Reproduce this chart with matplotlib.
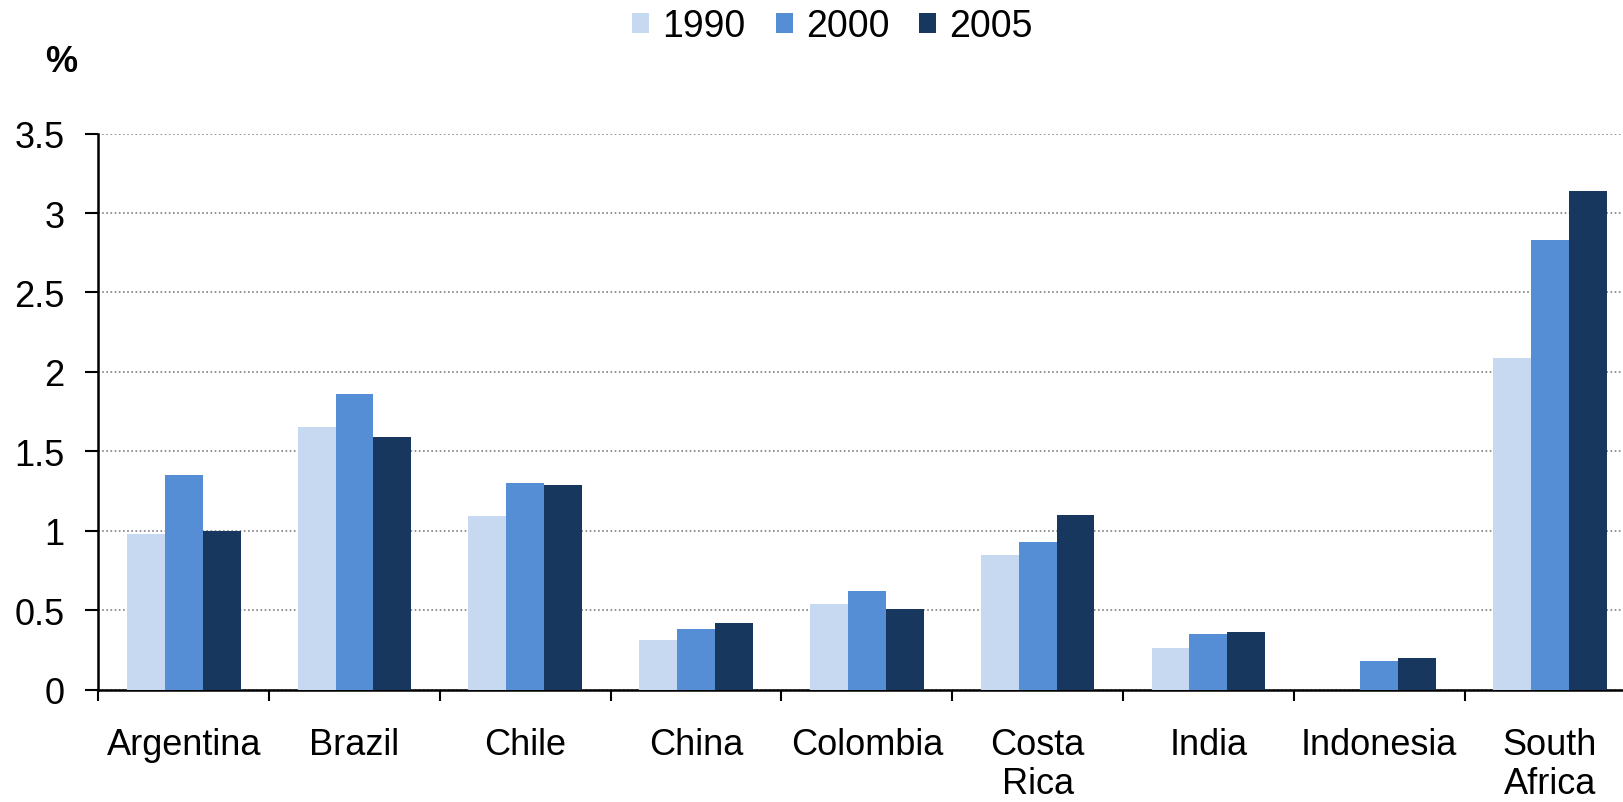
import numpy as np
import matplotlib
matplotlib.use('Agg')
from matplotlib import pyplot as plt

countries = ['Argentina', 'Brazil', 'Chile', 'China', 'Colombia', 'Costa\nRica',
             'India', 'Indonesia', 'South\nAfrica']
years = ['1990', '2000', '2005']
v1990 = [0.98, 1.65, 1.09, 0.31, 0.54, 0.85, 0.26, np.nan, 2.09]
v2000 = [1.35, 1.86, 1.30, 0.38, 0.62, 0.93, 0.35, 0.18, 2.83]
v2005 = [1.00, 1.59, 1.29, 0.42, 0.51, 1.10, 0.36, 0.20, 3.14]
colors = ['#C6D9F0', '#558ED5', '#17375E']

plt.rcParams['font.family'] = ['Liberation Sans', 'DejaVu Sans']

fig = plt.figure(figsize=(16.23, 8.03), dpi=100)
ax = fig.add_axes([0.0606, 0.140, 0.947, 0.6924])

x = np.arange(len(countries))
w = 0.222
for i, (vals, c, lab) in enumerate(zip([v1990, v2000, v2005], colors, years)):
    ax.bar(x + (i - 1) * w, vals, width=w, color=c, label=lab, zorder=3)

ax.set_xlim(-0.5, len(countries) - 0.5)
ax.set_ylim(0, 3.5)
ax.set_yticks(np.arange(0, 3.51, 0.5))
ax.set_yticklabels(['0', '0.5', '1', '1.5', '2', '2.5', '3', '3.5'], fontsize=26)
ax.yaxis.grid(True, linestyle=(0, (1, 1.5)), color='#808080', linewidth=1.2, zorder=0)

ax.set_xticks(np.arange(-0.5, len(countries), 1.0))
ax.set_xticklabels([])
ax.set_xticks(x, minor=True)
ax.set_xticklabels(countries, minor=True, fontsize=26, linespacing=1.15)
ax.tick_params(axis='x', which='minor', length=0, pad=27)
ax.tick_params(axis='x', which='major', length=8, width=1.5, direction='out')
ax.tick_params(axis='y', length=9.5, width=1.5, direction='out', pad=15)

for s in ['top', 'right']:
    ax.spines[s].set_visible(False)
for s in ['left', 'bottom']:
    ax.spines[s].set_linewidth(1.8)

fig.text(0.038, 0.922, '%', fontsize=26, fontweight='bold', ha='center', va='center')

fig.legend(loc='center', bbox_to_anchor=(0.513, 0.966), ncol=3, frameon=False,
           fontsize=27, handlelength=0.45, handleheight=0.45,
           handletextpad=0.35, columnspacing=0.8)

fig.savefig('out.png', dpi=100)
